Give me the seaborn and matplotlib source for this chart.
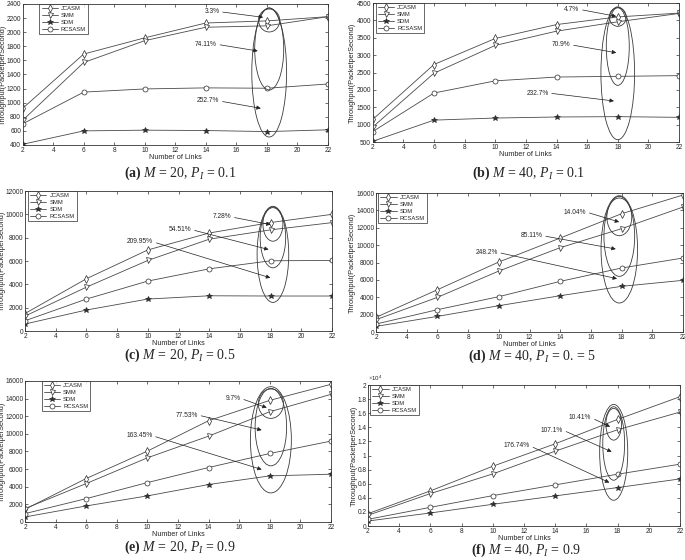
import matplotlib
matplotlib.use("Agg")
import matplotlib.pyplot as plt
from matplotlib.patches import Ellipse
from matplotlib.ticker import FuncFormatter
import seaborn as sns

# data
links = [2, 6, 10, 14, 18, 22]
series_names = ["JCASM", "SMM", "SDM", "RCSASM"]

jcasm_a = [920, 1690, 1920, 2130, 2160, 2220]
smm_a = [750, 1570, 1880, 2070, 2090, 2220]
sdm_a = [410, 600, 610, 605, 590, 615]
rcsasm_a = [700, 1150, 1195, 1210, 1205, 1265]

jcasm_b = [1150, 2730, 3480, 3880, 4100, 4210]
smm_b = [930, 2480, 3280, 3690, 3960, 4200]
sdm_b = [520, 1130, 1190, 1220, 1230, 1210]
rcsasm_b = [800, 1910, 2260, 2370, 2390, 2410]

jcasm_c = [1500, 4480, 6950, 8400, 9300, 10000]
smm_c = [1280, 3760, 6050, 7870, 8670, 9290]
sdm_c = [600, 1800, 2740, 3020, 3000, 3000]
rcsasm_c = [880, 2740, 4280, 5330, 6020, 6050]

jcasm_d = [1690, 4870, 8060, 10820, 13620, 15770]
smm_d = [1420, 3990, 7020, 9710, 11900, 14390]
sdm_d = [650, 1800, 3030, 4180, 5260, 5950]
rcsasm_d = [920, 2570, 4070, 5830, 7370, 8520]

jcasm_e = [1440, 4930, 8040, 11490, 13800, 15620]
smm_e = [1520, 4360, 7280, 9740, 12510, 14480]
sdm_e = [570, 1820, 2960, 4250, 5230, 5420]
rcsasm_e = [950, 2650, 4470, 6180, 7770, 9180]

jcasm_f = [1750, 4980, 8480, 11660, 15120, 18340]
smm_f = [1520, 4600, 7390, 10620, 13650, 16160]
sdm_f = [710, 1850, 3080, 4270, 5450, 6680]
rcsasm_f = [950, 2650, 4310, 5830, 7350, 8770]

pct_a = ["3.3%", "74.11%", "252.7%"]
pct_b = ["4.7%", "70.9%", "232.7%"]
pct_c = ["7.28%", "54.51%", "209.95%"]
pct_d = ["14.04%", "85.11%", "248.2%"]
pct_e = ["9.7%", "77.53%", "163.45%"]
pct_f = ["10.41%", "107.1%", "176.74%"]

captions = [
    r"$\mathbf{(a)}$ $M$ = 20, $P_I$ = 0.1",
    r"$\mathbf{(b)}$ $M$ = 40, $P_I$ = 0.1",
    r"$\mathbf{(c)}$ $M$ = 20, $P_I$ = 0.5",
    r"$\mathbf{(d)}$ $M$ = 40, $P_I$ = 0. = 5",
    r"$\mathbf{(e)}$ $M$ = 20, $P_I$ = 0.9",
    r"$\mathbf{(f)}$ $M$ = 40, $P_I$ = 0.9",
]

# layout / styling (not data)
markers = {"JCASM": "d", "SMM": "v", "SDM": "*", "RCSASM": "o"}
fills = {"JCASM": "white", "SMM": "white", "SDM": "#333333", "RCSASM": "white"}

panels = [
    dict(vals=[jcasm_a, smm_a, sdm_a, rcsasm_a], pct=pct_a,
         pos=[0.0331, 0.7411, 0.4457, 0.2518], ylim=(400, 2400), step=200,
         leg_x=0.055, ylab_x=-0.053, cap_xy=(180, 173),
         txt=[(14.4, 2291), (14.0, 1828), (14.15, 1024)],
         tip=[(17.75, 2211), (17.4, 1733), (17.6, 920)],
         ell_x=18.15, ell=[(0.69, 2003, 2329), (0.95, 1180, 2343), (1.14, 513, 2343)]),
    dict(vals=[jcasm_b, smm_b, sdm_b, rcsasm_b], pct=pct_b,
         pos=[0.5441, 0.7464, 0.4472, 0.2482], ylim=(500, 4500), step=500,
         leg_x=0.01, ylab_x=-0.055, cap_xy=(528, 173),
         txt=[(15.0, 4318), (14.3, 3300), (12.75, 1910)],
         tip=[(17.9, 4116), (17.9, 3070), (17.75, 1680)],
         ell_x=18.0, ell=[(0.55, 3829, 4366), (0.75, 2131, 4366), (1.1, 567, 4390)]),
    dict(vals=[jcasm_c, smm_c, sdm_c, rcsasm_c], pct=pct_c,
         pos=[0.0365, 0.4089, 0.4482, 0.2500], ylim=(0, 12000), step=2000,
         leg_x=0.01, ylab_x=-0.062, cap_xy=(180, 355),
         txt=[(14.83, 9778), (12.1, 8694), (9.5, 7640)],
         tip=[(18.0, 9122), (17.87, 6984), (17.98, 4561)],
         ell_x=18.15, ell=[(0.65, 7697, 10633), (0.83, 5416, 10576), (1.03, 2451, 10690)]),
    dict(vals=[jcasm_d, smm_d, sdm_d, rcsasm_d], pct=pct_d,
         pos=[0.5489, 0.4071, 0.4482, 0.2482], ylim=(0, 16000), step=2000,
         leg_x=0.007, ylab_x=-0.065, cap_xy=(532, 356),
         txt=[(14.96, 13814), (12.14, 11090), (9.2, 9171)],
         tip=[(17.84, 12663), (17.62, 9555), (17.7, 6140)],
         ell_x=17.85, ell=[(0.81, 11090, 15426), (1.0, 6408, 15618), (1.19, 3338, 15694)]),
    dict(vals=[jcasm_e, smm_e, sdm_e, rcsasm_e], pct=pct_e,
         pos=[0.0365, 0.0679, 0.4467, 0.2518], ylim=(0, 16000), step=2000,
         leg_x=0.055, ylab_x=-0.062, cap_xy=(180, 547),
         txt=[(15.6, 14028), (12.57, 12133), (9.47, 9782)],
         tip=[(17.8, 12967), (17.47, 10427), (17.47, 5953)],
         ell_x=18.07, ell=[(0.82, 11754, 15090), (1.03, 6370, 15166), (1.34, 3299, 15355)]),
    dict(vals=[jcasm_f, smm_f, sdm_f, rcsasm_f], pct=pct_f,
         pos=[0.5372, 0.0607, 0.4555, 0.2518], ylim=(0, 20000), step=2000,
         leg_x=0.007, ylab_x=-0.032, cap_xy=(526, 550),
         txt=[(15.6, 15355), (13.78, 13602), (11.54, 11374)],
         tip=[(17.52, 14076), (17.62, 10521), (17.47, 6161)],
         ell_x=17.75, ell=[(0.5, 12180, 16682), (0.7, 6493, 16919), (0.9, 3649, 17251)]),
]

sns.set_style("ticks")
plt.rcParams["font.family"] = ["Liberation Sans", "DejaVu Sans"]
plt.rcParams["mathtext.fontset"] = "custom"
plt.rcParams["mathtext.rm"] = "Liberation Serif"
plt.rcParams["mathtext.it"] = "Liberation Serif:italic"
plt.rcParams["mathtext.bf"] = "Liberation Serif:bold"
plt.rcParams["mathtext.sf"] = "Liberation Sans"
plt.rcParams["xtick.direction"] = "in"
plt.rcParams["ytick.direction"] = "in"

W, H = 685, 560
fig = plt.figure(figsize=(W / 100, H / 100), dpi=100)
line_col = "#4a4a4a"

for i, p in enumerate(panels):
    ax = fig.add_axes(p["pos"])
    for name, vals in zip(series_names, p["vals"]):
        sns.lineplot(x=links, y=vals, ax=ax, color=line_col, lw=0.6,
                     marker=markers[name], markersize=3.6 if name != "SDM" else 4.2,
                     markerfacecolor=fills[name], markeredgecolor="#2a2a2a",
                     markeredgewidth=0.5, label=name)

    # ellipses around the 18-link points
    for hw, lo, hi in p["ell"]:
        ax.add_patch(Ellipse((p["ell_x"], (lo + hi) / 2), 2 * hw, hi - lo,
                             fill=False, ec="#3a3a3a", lw=0.6, zorder=4))

    for lab, (tx, ty), (ax_, ay) in zip(p["pct"], p["txt"], p["tip"]):
        ax.annotate(lab, xy=(ax_, ay), xytext=(tx, ty), fontsize=4.8,
                    ha="center", va="center", zorder=6,
                    arrowprops=dict(arrowstyle="-|>", color="#222222", lw=0.5,
                                    mutation_scale=6, relpos=(1, 0.5),
                                    shrinkA=0, shrinkB=0))

    ax.set_xlim(2, 22)
    ax.set_xticks(range(2, 23, 2))
    y0, y1 = p["ylim"]
    ax.set_ylim(y0, y1)
    ax.set_yticks(range(y0, y1 + 1, p["step"]))
    if i == 5:
        ax.yaxis.set_major_formatter(FuncFormatter(lambda v, _: f"{v / 1e4:g}"))
        ax.text(0.0, 1.012, r"$\times\mathsf{10^{4}}$", transform=ax.transAxes,
                fontsize=4.4, ha="left", va="bottom")

    ax.tick_params(axis="both", labelsize=4.7, length=2.5, width=0.5, pad=1.2,
                   top=True, right=True, color="#333333")
    for s in ax.spines.values():
        s.set_linewidth(0.6)
        s.set_color("#333333")

    ax.set_xlabel("Number of Links", fontsize=5.2, labelpad=0)
    ax.set_ylabel("Throughput(PacketperSecond)", fontsize=5.3)
    ax.yaxis.set_label_coords(p["ylab_x"], 0.5)

    leg = ax.legend(loc="upper left", bbox_to_anchor=(p["leg_x"], 1.0),
                    borderaxespad=0, fontsize=4.2, frameon=True, fancybox=False,
                    handlelength=2.8, handletextpad=0.5, borderpad=0.35,
                    labelspacing=0.3)
    leg.get_frame().set_edgecolor("#222222")
    leg.get_frame().set_linewidth(0.6)

    cx, cy = p["cap_xy"]
    fig.text(cx / W, 1 - cy / H, captions[i], fontsize=10,
             family="Liberation Serif", ha="center", va="center")

fig.savefig("out.png", dpi=100)
